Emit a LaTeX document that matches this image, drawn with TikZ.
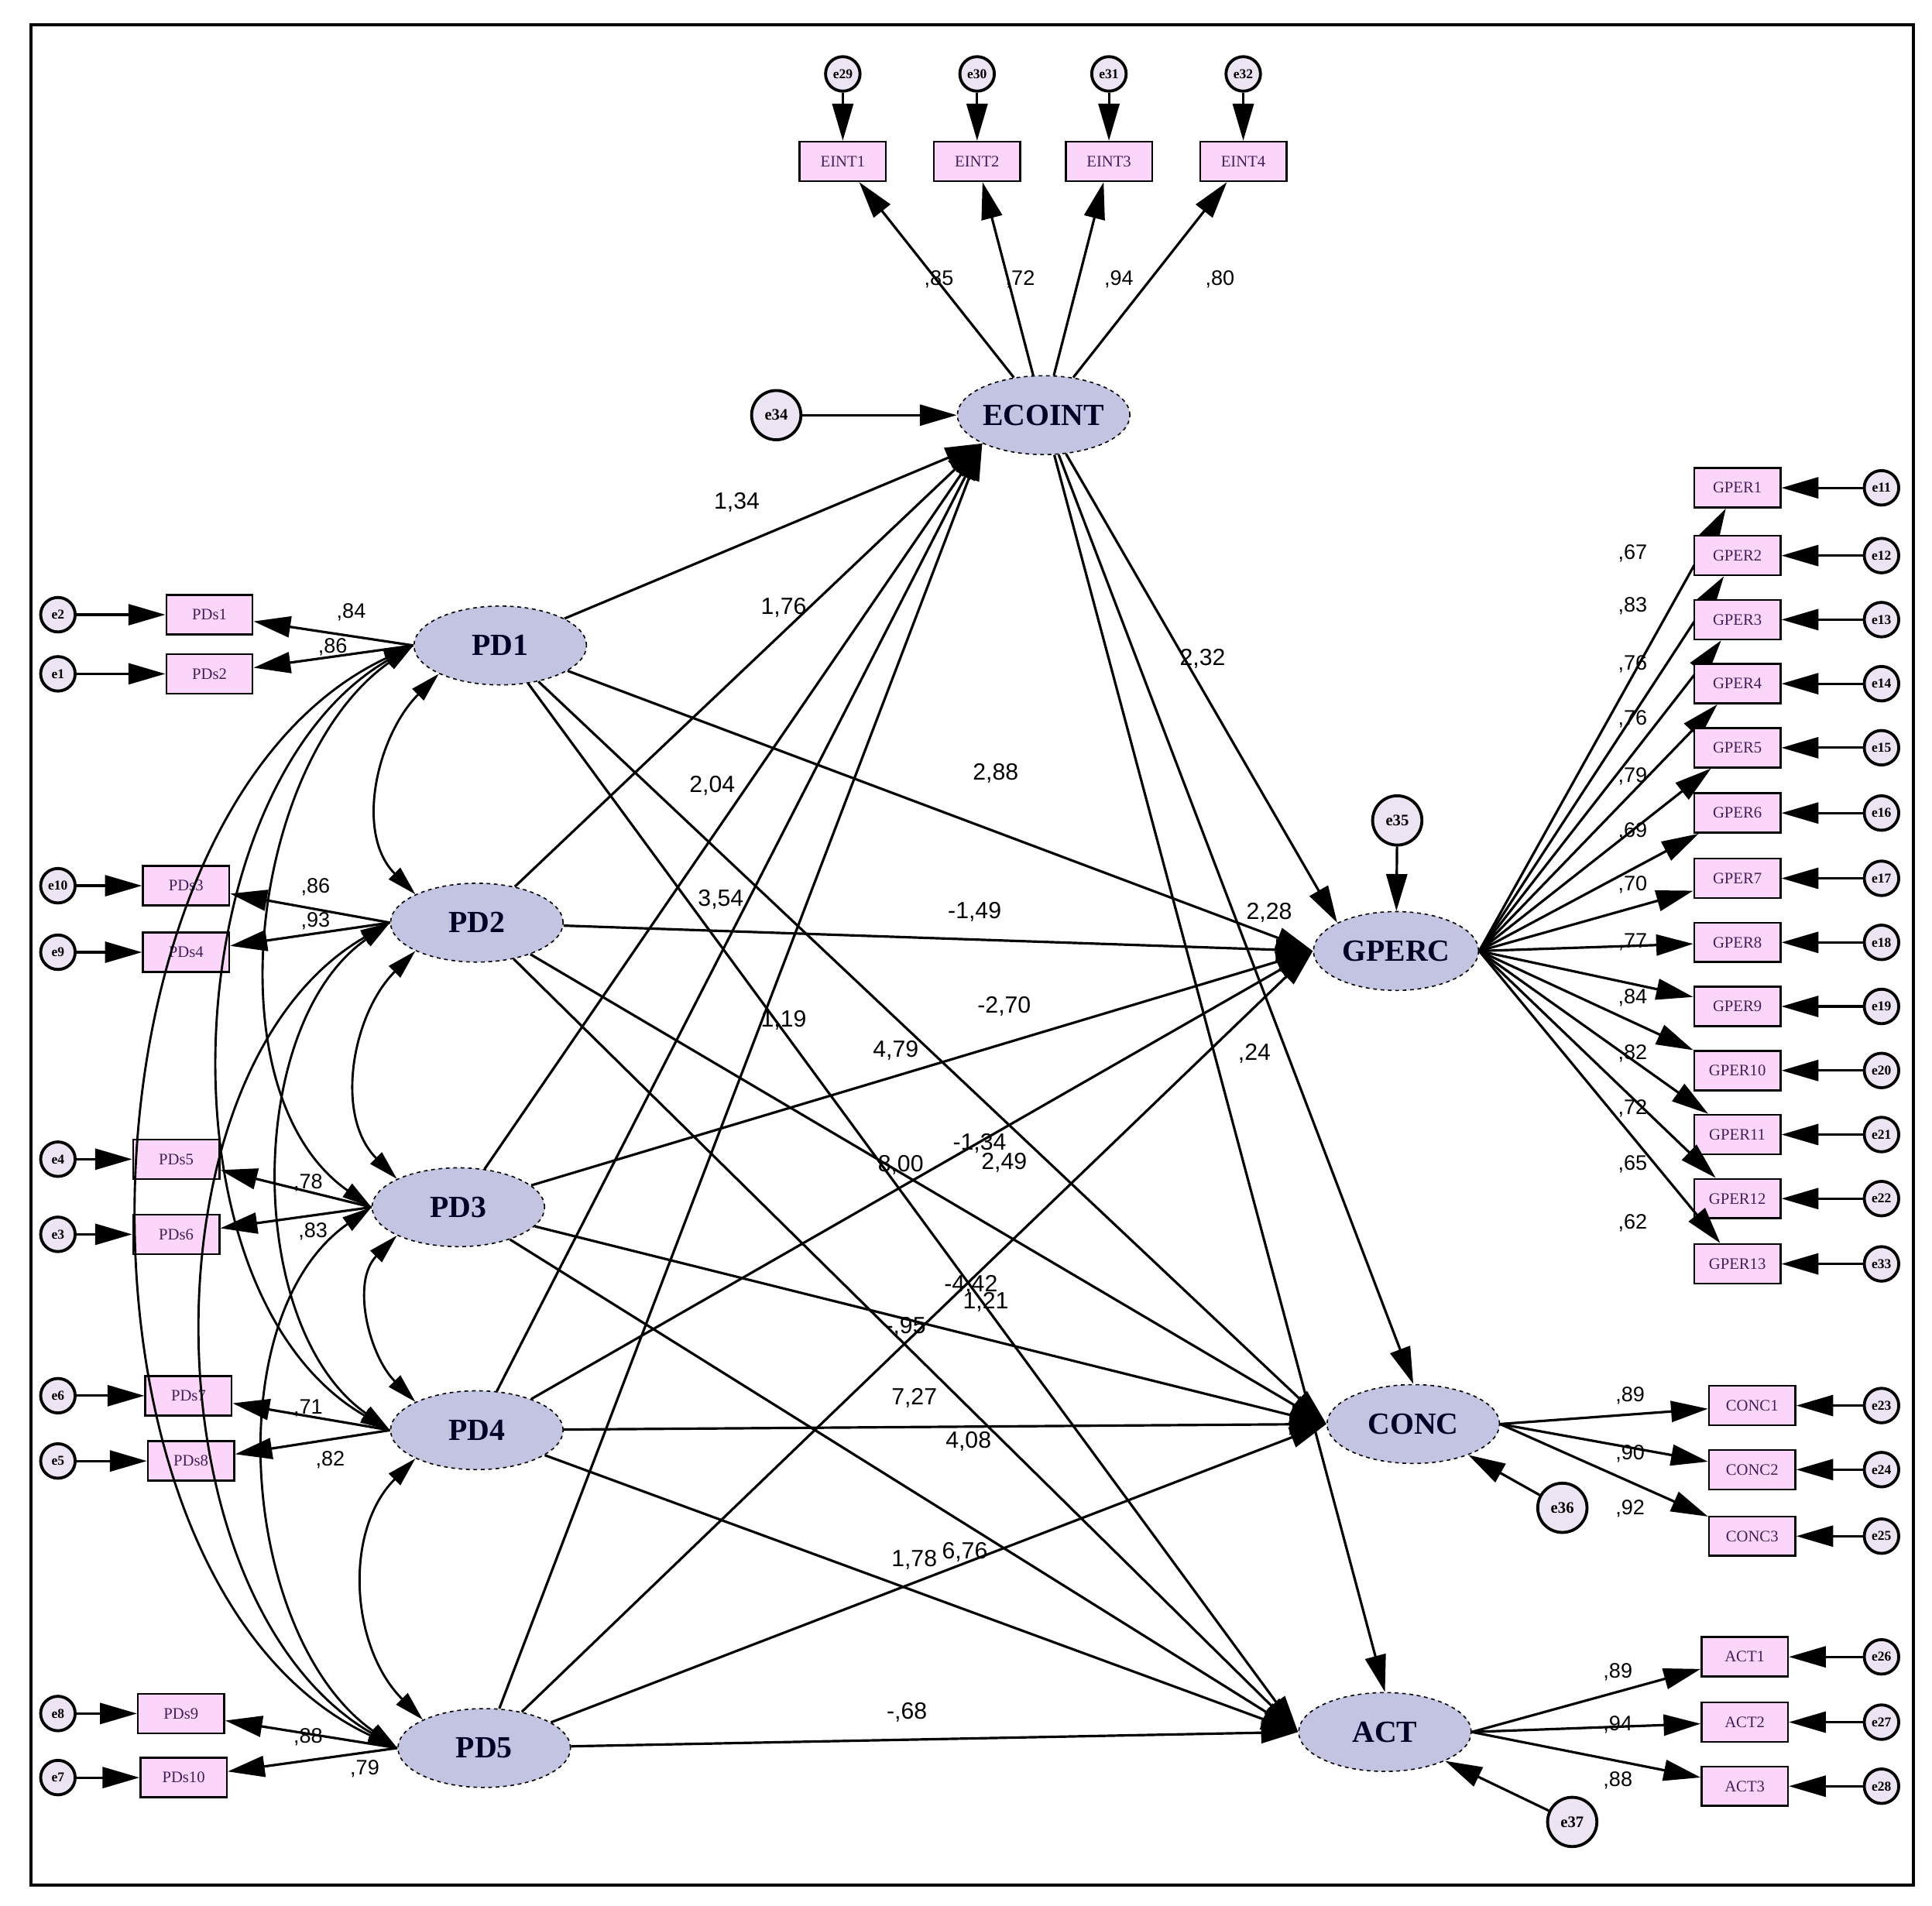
\documentclass[tikz,border=0pt]{standalone}
\usepackage{fontspec}
\setmainfont{Liberation Serif}
\newfontfamily\numfont{Liberation Sans}
\usetikzlibrary{shapes.geometric,arrows.meta}
\definecolor{latfill}{HTML}{C2C4E2}
\definecolor{boxfill}{HTML}{FCD6FA}
\definecolor{errfill}{HTML}{ECE4F2}
\definecolor{txtc}{HTML}{40205A}
\begin{document}
\begin{tikzpicture}[x=1pt,y=-1pt,
 lat/.style={ellipse,draw,dashed,line width=1pt,fill=latfill,minimum width=140pt,minimum height=64pt,inner sep=0pt,font=\fontsize{25}{25}\selectfont\bfseries,text=black!85!blue},
 box/.style={rectangle,draw,line width=1.6pt,fill=boxfill,minimum width=70pt,minimum height=32pt,inner sep=0pt,font=\fontsize{13}{13}\selectfont,text=txtc},
 err/.style={circle,draw,line width=2.4pt,fill=errfill,minimum size=28pt,inner sep=0pt,font=\fontsize{11}{11}\selectfont\bfseries},
 errb/.style={err,minimum size=40pt,font=\fontsize{13}{13}\selectfont\bfseries},
 lab/.style={font=\numfont\fontsize{19}{19}\selectfont,inner sep=0pt},
 slab/.style={font=\numfont\fontsize{17}{17}\selectfont,inner sep=0pt},
 arr/.style={line width=2pt,-{Triangle[length=30pt,width=17pt]}},
 cov/.style={line width=1.8pt,{Triangle[length=24pt,width=13pt]}-{Triangle[length=24pt,width=13pt]}}]
\fill[white] (0,0) rectangle (1568,1547);
\draw[line width=2.5pt] (25,20) rectangle (1553,1530);
% latent
\node[lat] (ECOINT) at (847,337) {ECOINT};
\node[lat] (PD1) at (406,524) {PD1};
\node[lat] (PD2) at (387,749) {PD2};
\node[lat] (PD3) at (372,980) {PD3};
\node[lat] (PD4) at (387,1161) {PD4};
\node[lat] (PD5) at (393,1419) {PD5};
\node[lat,minimum width=134pt] (GPERC) at (1133,772) {GPERC};
\node[lat] (CONC) at (1147,1156) {CONC};
\node[lat] (ACT) at (1124,1406) {ACT};
% disturbances
\node[errb] (e34) at (630,337) {e34};
\node[errb] (e35) at (1134,666) {e35};
\node[errb] (e36) at (1268,1224) {e36};
\node[errb] (e37) at (1276,1479) {e37};
\draw[arr] (e34) -- (ECOINT);
\draw[arr] (e35) -- (GPERC);
\draw[arr] (e36) -- (CONC);
\draw[arr] (e37) -- (ACT);
% EINT
\foreach \i/\x/\e/\l/\lx in {1/684/29/{,85}/762, 2/793/30/{,72}/828, 3/900/31/{,94}/908, 4/1009/32/{,80}/990}{
 \node[box] (EINT\i) at (\x,131) {EINT\i};
 \node[err] (e\e) at (\x,60) {e\e};
 \draw[arr] (e\e) -- (EINT\i);
 \draw[arr] (ECOINT) -- (EINT\i);
 \node[slab] (lE\i) at (\lx,227) {\l};
}
% PD indicators
\foreach \n/\x/\y/\e/\p/\l/\lx/\ly in {1/170/499/2/1/{,84}/285/497, 2/170/547/1/1/{,86}/270/525,
 3/151/719/10/2/{,86}/256/720, 4/151/773/9/2/{,93}/256/748,
 5/143/941/4/3/{,78}/250/960, 6/143/1002/3/3/{,83}/254/1000,
 7/153/1133/6/4/{,71}/250/1143, 8/155/1186/5/4/{,82}/268/1185,
 9/147/1391/8/5/{,88}/250/1410, 10/149/1443/7/5/{,79}/296/1436}{
 \node[box] (PDs\n) at (\x,\y) {PDs\n};
 \node[err] (e\e) at (47,\y) {e\e};
 \draw[arr] (e\e) -- (PDs\n);
 \draw[arr] (PD\p.west) -- (PDs\n);
 \node[slab] (lP\n) at (\lx,\ly) {\l};
}
% GPER
\foreach \n/\y/\e/\l/\ly in {1/396/11/{,67}/449, 2/451/12/{,83}/492, 3/503/13/{,76}/539, 4/555/14/{,76}/584,
 5/607/15/{,79}/630, 6/660/16/{,69}/675, 7/713/17/{,70}/718, 8/765/18/{,77}/765, 9/817/19/{,84}/810,
 10/869/20/{,82}/855, 11/921/21/{,72}/900, 12/973/22/{,65}/945, 13/1026/33/{,62}/993}{
 \node[box] (GPER\n) at (1410,\y) {GPER\n};
 \node[err] (e\e) at (1527,\y) {e\e};
 \draw[arr] (e\e) -- (GPER\n);
 \draw[arr] (GPERC.east) -- (GPER\n);
 \node[slab] (lG\n) at (1325,\ly) {\l};
}
\foreach \n/\y/\e/\l/\ly in {1/1141/23/{,89}/1133, 2/1193/24/{,90}/1180, 3/1247/25/{,92}/1225}{
 \node[box] (CONC\n) at (1422,\y) {CONC\n};
 \node[err] (e\e) at (1527,\y) {e\e};
 \draw[arr] (e\e) -- (CONC\n);
 \draw[arr] (CONC.east) -- (CONC\n);
 \node[slab] (lC\n) at (1323,\ly) {\l};
}
\foreach \n/\y/\e/\l/\ly in {1/1345/26/{,89}/1357, 2/1398/27/{,94}/1400, 3/1450/28/{,88}/1445}{
 \node[box] (ACT\n) at (1416,\y) {ACT\n};
 \node[err] (e\e) at (1527,\y) {e\e};
 \draw[arr] (e\e) -- (ACT\n);
 \draw[arr] (ACT.east) -- (ACT\n);
 \node[slab] (lA\n) at (1313,\ly) {\l};
}
% structural paths
\foreach \s in {PD1,PD2,PD3,PD4,PD5}{
 \draw[arr] (\s) -- (ECOINT.south west);
 \draw[arr] (\s) -- (GPERC.west);
 \draw[arr] (\s) -- (CONC.west);
 \draw[arr] (\s) -- (ACT.west);
}
\draw[arr] (ECOINT) -- (GPERC.north west);
\draw[arr] (ECOINT) -- (CONC.north);
\draw[arr] (ECOINT) -- (ACT.north);
% structural labels
\foreach \t/\x/\y [count=\k] in {{1,34}/598/408, {1,76}/636/493, {2,04}/578/638, {3,54}/585/730, {1,19}/636/828,
 {2,32}/976/535, {2,88}/808/628, {-1,49}/791/740, {-2,70}/815/817, {2,28}/1030/741, {4,79}/727/853, {,24}/1018/855,
 {8,00}/731/946, {-1,34}/795/928, {2,49}/815/944, {-4,42}/788/1043, {1,21}/800/1057, {-,95}/735/1077,
 {7,27}/742/1135, {4,08}/786/1170, {1,78}/742/1266, {6,76}/783/1260, {-,68}/736/1390}{
 \node[lab] (s\k) at (\x,\y) {\t};
}
% covariances
\draw[cov] (PD1.south west) to[out=225,in=135,looseness=1] (PD2.north west);
\draw[cov] (PD2.south west) to[out=225,in=135,looseness=1] (PD3.north west);
\draw[cov] (PD3.south west) to[out=225,in=135,looseness=1] (PD4.north west);
\draw[cov] (PD4.south west) to[out=225,in=135,looseness=1] (PD5.north west);
\draw[cov] (PD1.west) to[out=215,in=145,looseness=0.9] (PD3.west);
\draw[cov] (PD1.west) to[out=210,in=150,looseness=0.9] (PD4.west);
\draw[cov] (PD1.west) to[out=205,in=155,looseness=0.9] (PD5.west);
\draw[cov] (PD2.west) to[out=215,in=145,looseness=0.9] (PD4.west);
\draw[cov] (PD2.west) to[out=210,in=150,looseness=0.9] (PD5.west);
\draw[cov] (PD3.west) to[out=215,in=145,looseness=0.9] (PD5.west);
\end{tikzpicture}
\end{document}
